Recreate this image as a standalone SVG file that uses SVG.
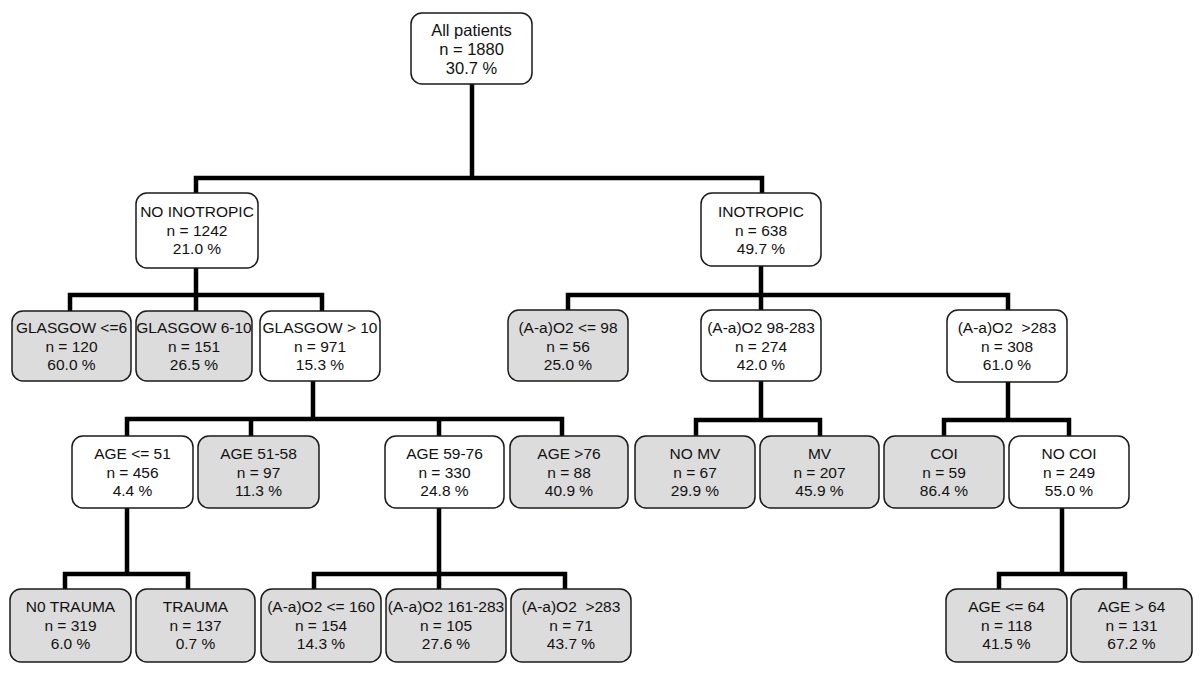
<svg xmlns="http://www.w3.org/2000/svg" width="1200" height="689" viewBox="0 0 1200 689">
<style>
.box{stroke:#1a1a1a;stroke-width:1.5}
.w{fill:#ffffff}
.g{fill:#dcdcdc}
text{font-family:"Liberation Sans",Arial,sans-serif;font-size:15.5px;fill:#111;text-anchor:middle}
.root text{font-size:16.5px}
.conn path{fill:none;stroke:#000;stroke-width:4.5;stroke-linecap:square;stroke-linejoin:miter}
</style>
<rect width="1200" height="689" fill="#ffffff"/>
<g class="conn">
<path d="M472 84V178M196 178H762M196 178V193M762 178V193"/>
<path d="M196 268V295M70 295H322M70 295V311M196 295V311M322 295V311"/>
<path d="M761 266V295M568 295H1008M568 295V310M761 295V310M1008 295V310"/>
<path d="M313 381V419M127 419H562M127 419V436M251 419V436M439 419V436M562 419V436"/>
<path d="M761 381V420M696 420H820M696 420V436M820 420V436"/>
<path d="M1008 382V420M944 420H1069M944 420V436M1069 420V436"/>
<path d="M127 508V574M65 574H188M65 574V589M188 574V589"/>
<path d="M439 508V574M314 574H565M314 574V589M439 574V589M565 574V589"/>
<path d="M1062 508V574M999 574H1125M999 574V589M1125 574V589"/>
</g>
<g id="n-root" class="root"><rect class="box w" x="411" y="13" width="121" height="71" rx="11"/><text x="471.5" y="36">All patients</text><text x="471.5" y="55">n = 1880</text><text x="471.5" y="74">30.7 %</text></g>
<g id="n-noino"><rect class="box w" x="136" y="193" width="122" height="75" rx="11"/><text x="197" y="217">NO INOTROPIC</text><text x="197" y="235.5">n = 1242</text><text x="197" y="254">21.0 %</text></g>
<g id="n-ino"><rect class="box w" x="701" y="193" width="120" height="73" rx="11"/><text x="761" y="217">INOTROPIC</text><text x="761" y="235.5">n = 638</text><text x="761" y="254">49.7 %</text></g>
<g id="n-g6"><rect class="box g" x="12" y="311" width="119" height="70" rx="11"/><text x="71.5" y="333">GLASGOW &lt;=6</text><text x="71.5" y="351.5">n = 120</text><text x="71.5" y="370">60.0 %</text></g>
<g id="n-g610"><rect class="box g" x="136" y="311" width="116" height="70" rx="11"/><text x="194" y="333">GLASGOW 6-10</text><text x="194" y="351.5">n = 151</text><text x="194" y="370">26.5 %</text></g>
<g id="n-g10"><rect class="box w" x="260" y="311" width="120" height="70" rx="11"/><text x="320" y="333">GLASGOW &gt; 10</text><text x="320" y="351.5">n = 971</text><text x="320" y="370">15.3 %</text></g>
<g id="n-a98"><rect class="box g" x="508" y="310" width="120" height="71" rx="11"/><text x="568" y="333">(A-a)O2 &lt;= 98</text><text x="568" y="351.5">n = 56</text><text x="568" y="370">25.0 %</text></g>
<g id="n-a98283"><rect class="box w" x="701" y="310" width="120" height="71" rx="11"/><text x="761" y="333">(A-a)O2 98-283</text><text x="761" y="351.5">n = 274</text><text x="761" y="370">42.0 %</text></g>
<g id="n-a283"><rect class="box w" x="947" y="310" width="120" height="72" rx="11"/><text x="1007" y="333" xml:space="preserve">(A-a)O2  &gt;283</text><text x="1007" y="351.5">n = 308</text><text x="1007" y="370">61.0 %</text></g>
<g id="n-age51"><rect class="box w" x="72" y="436" width="121" height="72" rx="11"/><text x="132.5" y="459">AGE &lt;= 51</text><text x="132.5" y="477.5">n = 456</text><text x="132.5" y="496">4.4 %</text></g>
<g id="n-age5158"><rect class="box g" x="198" y="436" width="121" height="72" rx="11"/><text x="258.5" y="459">AGE 51-58</text><text x="258.5" y="477.5">n = 97</text><text x="258.5" y="496">11.3 %</text></g>
<g id="n-age5976"><rect class="box w" x="385" y="436" width="119" height="72" rx="11"/><text x="444.5" y="459">AGE 59-76</text><text x="444.5" y="477.5">n = 330</text><text x="444.5" y="496">24.8 %</text></g>
<g id="n-age76"><rect class="box g" x="510" y="436" width="118" height="72" rx="11"/><text x="569" y="459">AGE &gt;76</text><text x="569" y="477.5">n = 88</text><text x="569" y="496">40.9 %</text></g>
<g id="n-nomv"><rect class="box g" x="635" y="436" width="120" height="72" rx="11"/><text x="695" y="459">NO MV</text><text x="695" y="477.5">n = 67</text><text x="695" y="496">29.9 %</text></g>
<g id="n-mv"><rect class="box g" x="760" y="436" width="119" height="72" rx="11"/><text x="819.5" y="459">MV</text><text x="819.5" y="477.5">n = 207</text><text x="819.5" y="496">45.9 %</text></g>
<g id="n-coi"><rect class="box g" x="884" y="436" width="120" height="72" rx="11"/><text x="944" y="459">COI</text><text x="944" y="477.5">n = 59</text><text x="944" y="496">86.4 %</text></g>
<g id="n-nocoi"><rect class="box w" x="1009" y="436" width="120" height="72" rx="11"/><text x="1069" y="459">NO COI</text><text x="1069" y="477.5">n = 249</text><text x="1069" y="496">55.0 %</text></g>
<g id="n-notrauma"><rect class="box g" x="10" y="589" width="121" height="73" rx="11"/><text x="70.5" y="612">N0 TRAUMA</text><text x="70.5" y="630.5">n = 319</text><text x="70.5" y="649">6.0 %</text></g>
<g id="n-trauma"><rect class="box g" x="136" y="589" width="119" height="73" rx="11"/><text x="195.5" y="612">TRAUMA</text><text x="195.5" y="630.5">n = 137</text><text x="195.5" y="649">0.7 %</text></g>
<g id="n-a160"><rect class="box g" x="261" y="589" width="120" height="73" rx="11"/><text x="321" y="612">(A-a)O2 &lt;= 160</text><text x="321" y="630.5">n = 154</text><text x="321" y="649">14.3 %</text></g>
<g id="n-a161283"><rect class="box g" x="386" y="589" width="120" height="73" rx="11"/><text x="446" y="612">(A-a)O2 161-283</text><text x="446" y="630.5">n = 105</text><text x="446" y="649">27.6 %</text></g>
<g id="n-a283b"><rect class="box g" x="511" y="589" width="120" height="73" rx="11"/><text x="571" y="612" xml:space="preserve">(A-a)O2  &gt;283</text><text x="571" y="630.5">n = 71</text><text x="571" y="649">43.7 %</text></g>
<g id="n-age64"><rect class="box g" x="946" y="589" width="121" height="73" rx="11"/><text x="1006.5" y="612">AGE &lt;= 64</text><text x="1006.5" y="630.5">n = 118</text><text x="1006.5" y="649">41.5 %</text></g>
<g id="n-agegt64"><rect class="box g" x="1071" y="589" width="121" height="73" rx="11"/><text x="1131.5" y="612">AGE &gt; 64</text><text x="1131.5" y="630.5">n = 131</text><text x="1131.5" y="649">67.2 %</text></g>
</svg>
